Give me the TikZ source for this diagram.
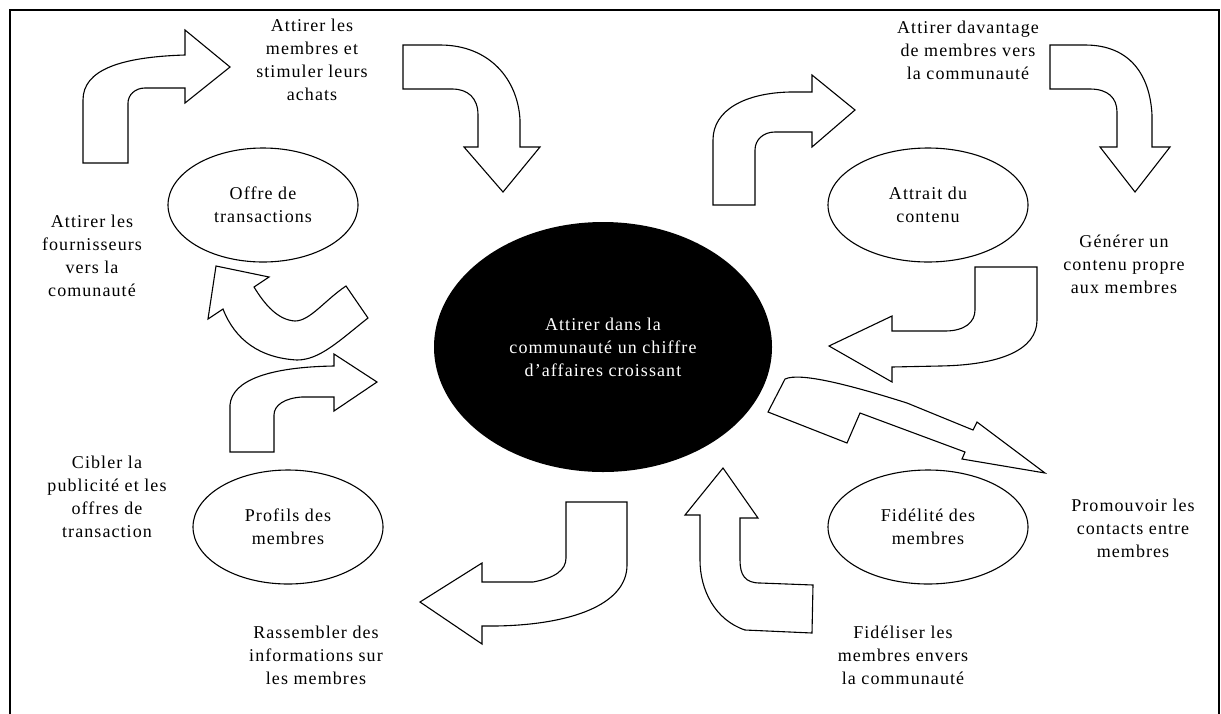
\documentclass[tikz,border=0pt]{standalone}
\usepackage{fontspec}
\setmainfont{Liberation Serif}[LetterSpace=6]
\usetikzlibrary{shapes.geometric}
\tikzset{
  blockarrow/.style={draw, fill=white, line width=1.1pt, line join=miter},
  txt/.style={align=center, font=\fontsize{18}{23}\selectfont, inner sep=0pt},
  bubble/.style={draw, ellipse, line width=1.1pt, inner sep=0pt, minimum width=190pt, minimum height=114pt, txt}
}
\begin{document}
\begin{tikzpicture}[x=1pt,y=-1pt]
\useasboundingbox (0,0) rectangle (1221,713);
\draw[line width=2pt] (10,730) -- (10,10) -- (1219,10) -- (1219,730);

\node[ellipse, fill=black, minimum width=338pt, minimum height=250pt, inner sep=0pt, txt, text=white] (centre) at (603,347)
  {Attirer dans la\\communauté un chiffre\\d’affaires croissant};

\node[bubble] (offre) at (263,205) {Offre de\\transactions};
\node[bubble, minimum width=200pt] (attrait) at (928,205) {Attrait du\\contenu};
\node[bubble] (profils) at (288,527) {Profils des\\membres};
\node[bubble, minimum width=200pt] (fidelite) at (928,527) {Fidélité des\\membres};

\node[txt] (stimuler) at (312,60) {Attirer les\\membres et\\stimuler leurs\\achats};
\node[txt] (davantage) at (968,50) {Attirer davantage\\de membres vers\\la communauté};
\node[txt] (fournisseurs) at (92,256) {Attirer les\\fournisseurs\\vers la\\comunauté};
\node[txt] (cibler) at (107,497) {Cibler la\\publicité et les\\offres de\\transaction};
\node[txt] (rassembler) at (316,655) {Rassembler des\\informations sur\\les membres};
\node[txt] (fideliser) at (903,655) {Fidéliser les\\membres envers\\la communauté};
\node[txt] (promouvoir) at (1133,528) {Promouvoir les\\contacts entre\\membres};
\node[txt] (generer) at (1124,264) {Générer un\\contenu propre\\aux membres};

\draw[blockarrow] (83,163) -- (83,100) .. controls (83,70) and (120,57) .. (185,55) -- (185,30) -- (230,67)
  -- (185,103) -- (185,88) -- (145,88) .. controls (135,88) and (128,95) .. (128,103) -- (128,163) -- cycle;
\draw[blockarrow] (403,45) -- (440,45) .. controls (490,45) and (518,80) .. (520,120) -- (520,147) -- (540,147)
  -- (503,192) -- (464,147) -- (478,147) -- (478,115) .. controls (478,98) and (468,89) .. (452,89) -- (403,89) -- cycle;
\draw[blockarrow] (713,205) -- (713,140) .. controls (713,110) and (745,93) .. (790,92) -- (812,92) -- (812,75)
  -- (855,110) -- (812,147) -- (812,132) -- (775,132) .. controls (763,132) and (755,140) .. (755,150) -- (755,205) -- cycle;
\draw[blockarrow] (1050,45) -- (1085,45) .. controls (1130,45) and (1150,75) .. (1152,115) -- (1152,147) -- (1170,147)
  -- (1135,192) -- (1100,147) -- (1117,147) -- (1117,112) .. controls (1117,98) and (1108,89) .. (1090,89) -- (1050,89) -- cycle;
\draw[blockarrow] (975,267) -- (1037,267) -- (1037,320) .. controls (1037,350) and (1000,365) .. (940,366) -- (892,367)
  -- (892,382) -- (829,346) -- (892,316) -- (892,331) -- (945,331) .. controls (965,331) and (975,322) .. (975,310) -- cycle;
\draw[blockarrow] (785,379) .. controls (800,372) and (850,385) .. (907,403) -- (973,430) -- (977,422) -- (1045,473)
  -- (962,459) -- (965,452) -- (860,413) -- (847,443) -- (768,412) -- cycle;
\draw[blockarrow] (700,515) -- (685,515) -- (723,468) -- (758,518) -- (740,518) -- (740,560) .. controls (740,575) and (745,583) .. (760,583)
  -- (813,585) -- (812,633) -- (745,630) .. controls (715,620) and (700,590) .. (700,560) -- cycle;
\draw[blockarrow] (566,502) -- (627,502) -- (627,565) .. controls (627,605) and (570,625) .. (495,626) -- (482,626) -- (482,644)
  -- (420,602) -- (482,563) -- (482,582) -- (533,582) .. controls (555,578) and (566,570) .. (566,558) -- cycle;
\draw[blockarrow] (208,319) -- (216,266) -- (269,277) -- (254,287) .. controls (265,305) and (278,320) .. (295,321)
  .. controls (310,321) and (325,300) .. (346,286) -- (368,318) .. controls (340,340) and (320,360) .. (297,360)
  .. controls (260,358) and (235,340) .. (223,309) -- cycle;
\draw[blockarrow] (230,452) -- (230,405) .. controls (232,380) and (270,367) .. (334,366) -- (334,354) -- (377,382)
  -- (334,411) -- (334,397) -- (302,397) .. controls (285,398) and (274,405) .. (274,415) -- (274,452) -- cycle;
\end{tikzpicture}
\end{document}
